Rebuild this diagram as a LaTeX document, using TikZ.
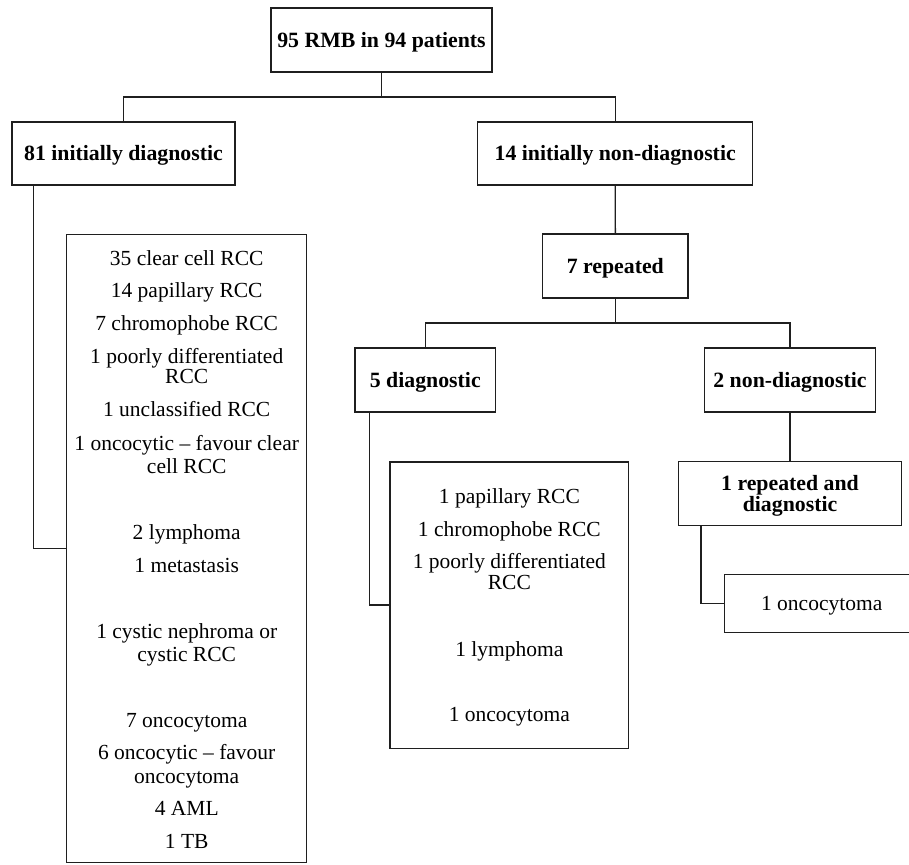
\documentclass[tikz,border=0pt]{standalone}
\usepackage{fontspec}
\setmainfont{Liberation Serif}
\begin{document}
\begin{tikzpicture}[x=1pt,y=-1pt,
  every node/.style={font=\fontsize{21.5}{21}\selectfont},
  box/.style={draw=black!88, line width=1.4pt, rectangle, inner sep=0pt,
    text height=14.6pt, text depth=0pt, align=center},
  hd/.style={font=\fontsize{21.8}{21}\selectfont\bfseries},
  ln/.style={anchor=base, inner sep=0pt},
  conn/.style={draw=black!88, line width=1.4pt}]
\useasboundingbox (0,0) rectangle (909,864);

% header boxes
\node[box,hd,minimum width=221pt,minimum height=64pt] (top) at (381.5,40) {95 RMB in 94 patients};
\node[box,hd,minimum width=223pt,minimum height=63pt] (d81) at (123.5,153.5) {81 initially diagnostic};
\node[box,hd,minimum width=275pt,minimum height=63pt] (n14) at (615.2,153.5) {14 initially non-diagnostic};
\node[box,hd,minimum width=145.3pt,minimum height=64pt] (r7) at (615.3,266) {7 repeated};
\node[box,hd,minimum width=140.7pt,minimum height=64pt] (d5) at (425.3,380) {5 diagnostic};
\node[box,hd,minimum width=171.4pt,minimum height=63.7pt] (n2) at (790,380) {2 non-diagnostic};
\node[box,minimum width=223.4pt,minimum height=63.8pt] (rd) at (790,493.6) {};
\node[ln,hd] (rd1) at (790,490.5) {1 repeated and};
\node[ln,hd] (rd2) at (790,511) {diagnostic};
\node[box,minimum width=194.7pt,minimum height=58.2pt] (onc) at (821.7,603.6) {1 oncocytoma};

% large list boxes
\node[box,minimum width=240pt,minimum height=628pt] (bigL) at (186.7,548.7) {};
\node[box,minimum width=238.7pt,minimum height=286.3pt] (big5) at (509.35,605.15) {};

% text of left list
\node[ln] (l1) at (186.7,265) {35 clear cell RCC};
\node[ln] (l2) at (186.7,297.7) {14 papillary RCC};
\node[ln] (l3) at (186.7,330.3) {7 chromophobe RCC};
\node[ln] (l4) at (186.7,363.7) {1 poorly differentiated};
\node[ln] (l4b) at (186.7,383.7) {RCC};
\node[ln] (l5) at (186.7,416.5) {1 unclassified RCC};
\node[ln] (l6) at (186.7,450.3) {1 oncocytic – favour clear};
\node[ln] (l6b) at (186.7,473.7) {cell RCC};
\node[ln] (l7) at (186.7,539.7) {2 lymphoma};
\node[ln] (l8) at (186.7,572) {1 metastasis};
\node[ln] (l9) at (186.7,638) {1 cystic nephroma or};
\node[ln] (l9b) at (186.7,661.3) {cystic RCC};
\node[ln] (l10) at (186.7,727) {7 oncocytoma};
\node[ln] (l11) at (186.7,759.7) {6 oncocytic – favour};
\node[ln] (l11b) at (186.7,783) {oncocytoma};
\node[ln] (l12) at (186.7,815.3) {4 AML};
\node[ln] (l13) at (186.7,848.7) {1 TB};

% text of middle list
\node[ln] (m1) at (509.35,503) {1 papillary RCC};
\node[ln] (m2) at (509.35,536) {1 chromophobe RCC};
\node[ln] (m3) at (509.35,568.7) {1 poorly differentiated};
\node[ln] (m3b) at (509.35,589.5) {RCC};
\node[ln] (m4) at (509.35,656) {1 lymphoma};
\node[ln] (m5) at (509.35,721.5) {1 oncocytoma};

% connectors
\coordinate (j1) at (381.5,97);
\coordinate (j2) at (615.3,323);
\coordinate (k1) at (33.3,548.7);
\coordinate (k2) at (369.3,605.15);
\coordinate (k3) at (701,603.6);

\draw[conn] (top.south) -- (j1);
\draw[conn] (d81.north) |- (j1) -| (n14.north);
\draw[conn] (n14.south) -- (r7.north);
\draw[conn] (r7.south) -- (j2);
\draw[conn] (d5.north) |- (j2) -| (n2.north);
\draw[conn] (n2.south) -- (rd.north);
\draw[conn] (k1 |- d81.south) -- (k1) -- (bigL.west);
\draw[conn] (k2 |- d5.south) -- (k2) -- (big5.west);
\draw[conn] (k3 |- rd.south) -- (k3) -- (onc.west);
\end{tikzpicture}
\end{document}
